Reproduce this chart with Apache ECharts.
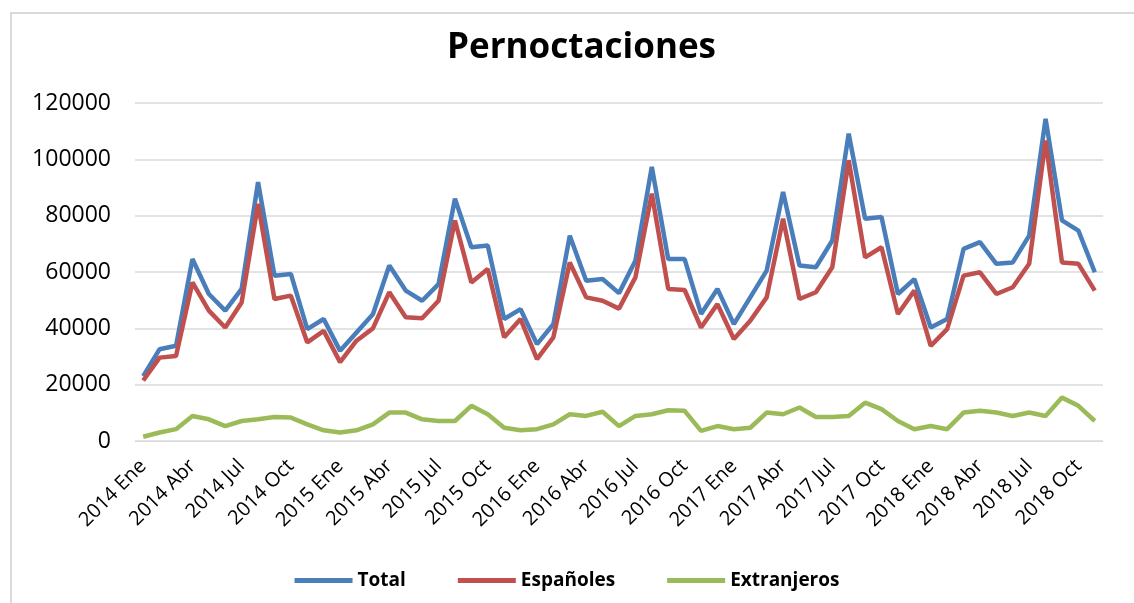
<!DOCTYPE html>
<html>
<head>
<meta charset="utf-8">
<script src="https://cdn.jsdelivr.net/npm/echarts@6/dist/echarts.min.js"></script>
<style>
  html, body { margin: 0; padding: 0; background: #fff; }
  #frame { position: absolute; left: 10px; top: 12px; width: 1130px; height: 600px;
           border-left: 2px solid #d9d9d9; border-top: 2px solid #d9d9d9; }
  #chart { position: absolute; left: 0; top: 0; width: 1134px; height: 603px; }
</style>
</head>
<body>
<div id="frame"></div>
<div id="chart"></div>
<script>
// meses (Ene 2014 - Nov 2018)
var years = ['2014', '2015', '2016', '2017', '2018'];
var months = ['Ene', 'Feb', 'Mar', 'Abr', 'May', 'Jun', 'Jul', 'Ago', 'Sep', 'Oct', 'Nov', 'Dic'];
var categories = [];
years.forEach(function (y) {
  months.forEach(function (m) { categories.push(y + ' ' + m); });
});
categories = categories.slice(0, 59);

var total = [
  23000, 32600, 33800, 64600, 52200, 46300, 54000, 91900, 58700, 59300, 39700, 43300,
  32000, 38500, 45000, 62300, 53400, 49800, 55700, 86000, 68800, 69400, 43300, 46800,
  34400, 41500, 72900, 56900, 57500, 52500, 64000, 97300, 64600, 64600, 45100, 54000,
  41500, 51000, 60500, 88400, 62300, 61700, 71200, 109100, 78900, 79500, 52200, 57500,
  40300, 43300, 68200, 70600, 62900, 63400, 72900, 114400, 78300, 74700, 59900
];
var espanoles = [
  21500, 29600, 30200, 56300, 46300, 40300, 49200, 84200, 50400, 51600, 35000, 39100,
  28000, 35600, 40000, 52800, 43900, 43600, 49800, 78300, 56300, 61100, 36800, 43300,
  29100, 36800, 63400, 51000, 49800, 47000, 58100, 87800, 54000, 53600, 40300, 48600,
  36200, 42700, 51000, 78900, 50400, 52800, 61700, 99600, 65200, 68800, 45100, 53400,
  33800, 39700, 58700, 59900, 52200, 54600, 62900, 106700, 63400, 62900, 53400
];
var extranjeros = [
  1500, 3000, 4200, 8900, 7700, 5300, 7100, 7700, 8500, 8300, 5900, 3800,
  3000, 3800, 5900, 10100, 10100, 7700, 7100, 7100, 12500, 9500, 4700, 3800,
  4200, 5900, 9500, 8900, 10400, 5300, 8900, 9500, 10900, 10700, 3600, 5300,
  4200, 4700, 10100, 9500, 11900, 8500, 8500, 8900, 13600, 11300, 7100, 4200,
  5300, 4200, 10100, 10700, 10100, 8900, 10100, 8900, 15400, 12500, 7100
];
var yTicks = [0, 20000, 40000, 60000, 80000, 100000, 120000];

var chart = echarts.init(document.getElementById('chart'));
var font = 'Open Sans';

function serie(name, data, color) {
  return {
    name: name,
    type: 'line',
    data: data,
    symbol: 'none',
    smooth: false,
    lineStyle: { width: 4.5, color: color },
    itemStyle: { color: color }
  };
}

chart.setOption({
  animation: false,
  title: {
    text: 'Pernoctaciones',
    left: 442,
    top: 26,
    textStyle: { fontFamily: font, fontWeight: 'bold', fontSize: 35, color: '#000' }
  },
  grid: { left: 135, right: 31, top: 103, bottom: 162 },
  legend: {
    bottom: 8,
    left: 'center',
    icon: 'rect',
    itemWidth: 58,
    itemHeight: 5,
    itemGap: 52,
    textStyle: { fontFamily: font, fontWeight: 'bold', fontSize: 19, color: '#000' },
    data: ['Total', 'Españoles', 'Extranjeros']
  },
  xAxis: {
    type: 'category',
    data: categories,
    boundaryGap: true,
    axisLine: { lineStyle: { color: '#d9d9d9', width: 1 } },
    axisTick: { show: false },
    axisLabel: {
      interval: 2,
      rotate: 45,
      margin: 22,
      fontFamily: font,
      fontSize: 20,
      color: '#000'
    }
  },
  yAxis: {
    type: 'value',
    min: 0,
    max: 120000,
    interval: 20000,
    axisLine: { show: false },
    axisTick: { show: false },
    splitLine: { lineStyle: { color: '#e3e3e3', width: 2 } },
    axisLabel: {
      margin: 24,
      fontFamily: font,
      fontSize: 23,
      color: '#000',
      formatter: function (v) { return yTicks.indexOf(v) >= 0 ? String(v) : ''; }
    }
  },
  series: [
    serie('Total', total, '#4a7ebb'),
    serie('Españoles', espanoles, '#c0504d'),
    serie('Extranjeros', extranjeros, '#9bbb59')
  ]
});
</script>
</body>
</html>
